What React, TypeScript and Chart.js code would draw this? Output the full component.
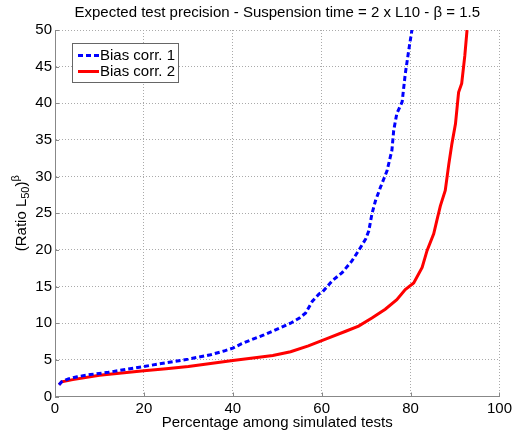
import React, { useEffect, useRef } from "react";
import { Chart, registerables } from "chart.js";

Chart.register(...registerables);

const titleText = "Expected test precision - Suspension time = 2 x L10 - \u03B2 = 1.5";
const xAxisTitle = "Percentage among simulated tests";
const seriesNames = ["Bias corr. 1", "Bias corr. 2"];

const xTicks = [0, 20, 40, 60, 80, 100];
const yTicks = [0, 5, 10, 15, 20, 25, 30, 35, 40, 45, 50];

const bias1X = [0.9, 1.5, 3, 5, 8, 12, 16, 20, 25, 30, 35, 38, 40, 42, 44, 47, 50, 53, 55, 56.4, 57.9, 59.4, 60.1, 62.4, 64.6, 66.8, 68.3, 69.9, 70.6, 71.3, 72.1, 73.2, 74.7, 75.8, 76.2, 76.9, 78.1, 78.8, 79.6, 80.3];
const bias1Y = [1.6, 2.0, 2.4, 2.7, 3.0, 3.3, 3.7, 4.1, 4.6, 5.1, 5.7, 6.2, 6.6, 7.2, 7.7, 8.4, 9.2, 10.0, 10.7, 11.4, 13.0, 14.0, 14.2, 15.8, 16.9, 18.5, 19.9, 21.5, 22.6, 24.9, 26.7, 28.5, 30.8, 33.6, 36.3, 38.6, 40.2, 44.0, 47.3, 50.0];

const bias2X = [0.9, 1.5, 4, 10, 15, 20, 25, 30, 35, 40, 45, 49, 53, 57, 61.6, 65.4, 68.3, 71.3, 74.3, 76.9, 78.8, 80.7, 82.6, 83.7, 85.2, 85.9, 86.7, 87.8, 88.6, 89.3, 90.1, 90.8, 91.5, 92.2, 92.7];
const bias2Y = [1.6, 2.0, 2.3, 2.9, 3.2, 3.5, 3.8, 4.1, 4.5, 4.9, 5.3, 5.6, 6.1, 6.9, 8.0, 8.9, 9.6, 10.7, 11.9, 13.2, 14.6, 15.5, 17.6, 19.9, 22.2, 24.0, 26.0, 28.1, 31.7, 34.5, 37.2, 41.5, 42.7, 46.5, 50.0];

const FONT = "'Liberation Sans', Arial, sans-serif";

const extrasPlugin = {
  id: "extras",
  afterDatasetsDraw(chart: any) {
    const { ctx, chartArea } = chart;
    const xs = chart.scales.x;
    const ys = chart.scales.y;
    ctx.save();
    // inward ticks
    ctx.strokeStyle = "#888";
    ctx.lineWidth = 1;
    ctx.setLineDash([]);
    ctx.beginPath();
    for (const v of xTicks) {
      const px = Math.round(xs.getPixelForValue(v)) + 0.5;
      ctx.moveTo(px, chartArea.bottom);
      ctx.lineTo(px, chartArea.bottom - 4);
    }
    for (const v of yTicks) {
      const py = Math.round(ys.getPixelForValue(v)) + 0.5;
      ctx.moveTo(chartArea.left, py);
      ctx.lineTo(chartArea.left + 4, py);
    }
    ctx.stroke();

    // title
    ctx.fillStyle = "#000";
    ctx.font = `15px ${FONT}`;
    ctx.textAlign = "center";
    ctx.textBaseline = "middle";
    ctx.fillText(titleText, (chartArea.left + chartArea.right) / 2, 13);

    // x axis title
    ctx.fillText(xAxisTitle, (chartArea.left + chartArea.right) / 2, 423);

    // y axis title with sub/superscript
    ctx.save();
    ctx.translate(22, (chartArea.top + chartArea.bottom) / 2);
    ctx.rotate(-Math.PI / 2);
    const big = `15px ${FONT}`;
    const small = `11px ${FONT}`;
    const parts: [string, string, number][] = [
      ["(Ratio L", big, 0],
      ["50", small, 4],
      [")", big, 0],
      ["\u03B2", small, -6],
    ];
    let total = 0;
    for (const [t, f] of parts) {
      ctx.font = f;
      total += ctx.measureText(t).width;
    }
    let cx = -total / 2;
    ctx.textAlign = "left";
    ctx.textBaseline = "middle";
    for (const [t, f, dy] of parts) {
      ctx.font = f;
      ctx.fillText(t, cx, dy);
      cx += ctx.measureText(t).width;
    }
    ctx.restore();

    // legend
    const lx = 72.5, ly = 43.5, lw = 106, lh = 39;
    ctx.fillStyle = "#fff";
    ctx.fillRect(lx, ly, lw, lh);
    ctx.strokeStyle = "#666";
    ctx.lineWidth = 1;
    ctx.strokeRect(lx, ly, lw, lh);
    const rows = [
      { y: 55.5, color: "#0000ff", dash: [5, 3] },
      { y: 71.5, color: "#ff0000", dash: [] as number[] },
    ];
    rows.forEach((r, i) => {
      ctx.strokeStyle = r.color;
      ctx.lineWidth = 3;
      ctx.setLineDash(r.dash);
      ctx.beginPath();
      ctx.moveTo(78, r.y);
      ctx.lineTo(99, r.y);
      ctx.stroke();
      ctx.setLineDash([]);
      ctx.fillStyle = "#000";
      ctx.font = `15px ${FONT}`;
      ctx.textAlign = "left";
      ctx.textBaseline = "middle";
      ctx.fillText(seriesNames[i], 100, r.y);
    });
    ctx.restore();
  },
};

export default function App() {
  const ref = useRef<HTMLCanvasElement>(null);
  useEffect(() => {
    if (!ref.current) return;
    const d1 = bias1X.map((x, i) => ({ x, y: bias1Y[i] }));
    const d2 = bias2X.map((x, i) => ({ x, y: bias2Y[i] }));
    const chart = new Chart(ref.current, {
      type: "line",
      data: {
        datasets: [
          {
            label: seriesNames[0],
            data: d1,
            borderColor: "#0000ff",
            borderWidth: 3,
            borderDash: [5, 3],
            pointRadius: 0,
            tension: 0,
            fill: false,
          },
          {
            label: seriesNames[1],
            data: d2,
            borderColor: "#ff0000",
            borderWidth: 3,
            pointRadius: 0,
            tension: 0,
            fill: false,
          },
        ],
      },
      options: {
        responsive: false,
        animation: false,
        layout: { padding: { left: 0, top: 30, right: 13.5, bottom: 0 } },
        plugins: {
          legend: { display: false },
          title: { display: false },
          tooltip: { enabled: false },
        },
        scales: {
          x: {
            type: "linear",
            min: 0,
            max: 100,
            afterBuildTicks: (s: any) => {
              s.ticks = xTicks.map((v) => ({ value: v }));
            },
            afterFit: (s: any) => {
              s.height = 38.5;
            },
            grid: { color: "#aaa", drawTicks: false, lineWidth: 1 },
            border: { display: true, color: "#888", width: 1, dash: [1, 2] },
            ticks: {
              color: "#000",
              font: { size: 15, family: FONT },
              padding: 3,
              maxRotation: 0,
            },
          },
          y: {
            type: "linear",
            min: 0,
            max: 50,
            afterBuildTicks: (s: any) => {
              s.ticks = yTicks.map((v) => ({ value: v }));
            },
            afterFit: (s: any) => {
              s.width = 55;
            },
            grid: { color: "#aaa", drawTicks: false, lineWidth: 1 },
            border: { display: true, color: "#888", width: 1, dash: [1, 2] },
            ticks: {
              color: "#000",
              font: { size: 15, family: FONT },
              padding: 3,
            },
          },
        },
      },
      plugins: [extrasPlugin],
    });
    return () => chart.destroy();
  }, []);
  return (
    <div style={{ position: "fixed", left: 0, top: 0, width: 515, height: 435, background: "#fff" }}>
      <canvas ref={ref} width={515} height={435} style={{ width: 515, height: 435 }} />
    </div>
  );
}
